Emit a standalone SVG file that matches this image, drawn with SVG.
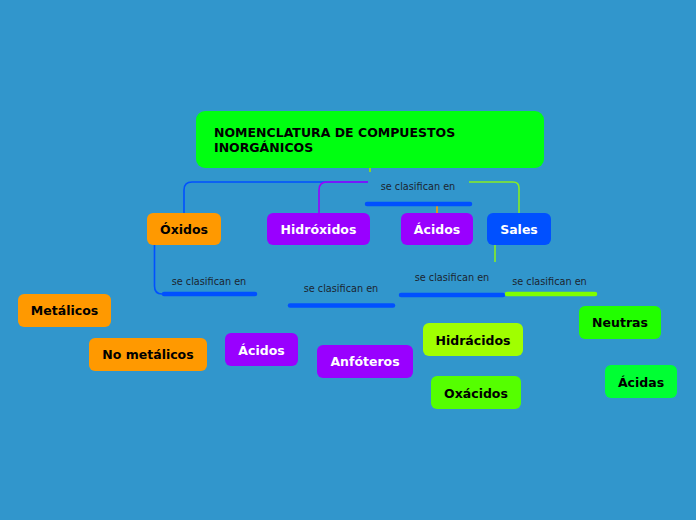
<svg xmlns="http://www.w3.org/2000/svg" width="696" height="520" viewBox="0 0 696 520">
<style>
.t{font-family:"DejaVu Sans","Liberation Sans",sans-serif;font-weight:bold;font-size:12.5px;text-anchor:middle}
.k{fill:#000}
.w{fill:#fff}
.lbl{font-family:"DejaVu Sans","Liberation Sans",sans-serif;font-size:9.7px;fill:#1c2530;text-anchor:middle}
.bar{stroke-width:4.5;stroke-linecap:round;fill:none}
.ln{fill:none;stroke-width:1.6}
</style>
<rect width="696" height="520" fill="#3196CC"/>
<g id="connectors">
<path class="ln" d="M370 168 V172" stroke="#a0e000"/>
<path class="ln" d="M368 182 H192 Q184 182 184 190 V213" stroke="#0050ff"/>
<path class="ln" d="M368 182 H327 Q319 182 319 190 V213" stroke="#9900ff"/>
<path class="ln" d="M469 182 H513 Q519 182 519 188 V213" stroke="#88ee22"/>
<path class="ln" d="M437 206 V213" stroke="#ff9900"/>
<path class="bar" d="M367 204 H470" stroke="#0050ff"/>
<text class="lbl" x="418" y="190">se clasifican en</text>
<path class="ln" d="M154.5 245 V286 Q154.5 294 162 294" stroke="#0050ff" stroke-width="1.2"/>
<path class="bar" d="M164 294 H255" stroke="#0050ff"/>
<text class="lbl" x="209" y="285">se clasifican en</text>
<path class="bar" d="M290 305.5 H393" stroke="#0050ff"/>
<text class="lbl" x="341" y="291.5">se clasifican en</text>
<path class="bar" d="M401 295 H503" stroke="#0050ff"/>
<text class="lbl" x="452" y="280.5">se clasifican en</text>
<path class="ln" d="M495 245 V262" stroke="#88ee22" stroke-width="1.2"/>
<path class="bar" d="M507 294 H595" stroke="#7fff00"/>
<text class="lbl" x="549.5" y="284.5">se clasifican en</text>
</g>
<g id="root">
<rect x="196" y="111" width="348" height="57" rx="9" fill="#00ff11"/>
<text class="t k" x="214" y="137" style="text-anchor:start">NOMENCLATURA DE COMPUESTOS</text>
<text class="t k" x="214" y="152" style="text-anchor:start">INORGÁNICOS</text>
</g>
<g id="oxidos"><rect x="147" y="213" width="74" height="32" rx="6" fill="#ff9900"/><text class="t k" x="184" y="233.5">Óxidos</text></g>
<g id="hidroxidos"><rect x="267" y="213" width="103" height="32" rx="6" fill="#9900ff"/><text class="t w" x="318.5" y="233.5">Hidróxidos</text></g>
<g id="acidos"><rect x="401" y="213" width="72" height="32" rx="6" fill="#9900ff"/><text class="t w" x="437" y="233.5">Ácidos</text></g>
<g id="sales"><rect x="487" y="213" width="64" height="32" rx="6" fill="#0050ff"/><text class="t w" x="519" y="233.5">Sales</text></g>
<g id="metalicos"><rect x="18" y="294" width="93" height="33" rx="6" fill="#ff9900"/><text class="t k" x="64.5" y="315">Metálicos</text></g>
<g id="nometalicos"><rect x="89" y="338" width="118" height="33" rx="6" fill="#ff9900"/><text class="t k" x="148" y="359">No metálicos</text></g>
<g id="acidos2"><rect x="225" y="333" width="73" height="33" rx="6" fill="#9900ff"/><text class="t w" x="261.5" y="354.5">Ácidos</text></g>
<g id="anfoteros"><rect x="317" y="345" width="96" height="33" rx="6" fill="#9900ff"/><text class="t w" x="365" y="366">Anfóteros</text></g>
<g id="hidracidos"><rect x="423" y="323" width="100" height="33" rx="6" fill="#a0ff00"/><text class="t k" x="473" y="344.5">Hidrácidos</text></g>
<g id="oxacidos"><rect x="431" y="376" width="90" height="33" rx="6" fill="#55ff00"/><text class="t k" x="476" y="397.5">Oxácidos</text></g>
<g id="neutras"><rect x="579" y="306" width="82" height="33" rx="6" fill="#22ff00"/><text class="t k" x="620" y="327">Neutras</text></g>
<g id="acidas"><rect x="605" y="365" width="72" height="33" rx="6" fill="#00ff33"/><text class="t k" x="641" y="386.5">Ácidas</text></g>
</svg>
